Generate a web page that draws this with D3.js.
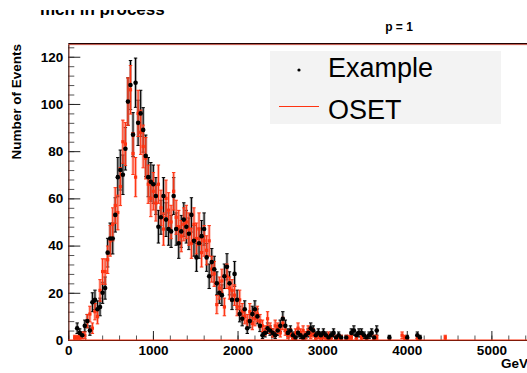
<!DOCTYPE html>
<html>
<head>
<meta charset="utf-8">
<script src="https://cdn.jsdelivr.net/npm/d3@7"></script>
<style>
body { margin: 0; background: #fff; }
svg { display: block; font-family: "Liberation Sans", Arial, Helvetica, sans-serif; }
</style>
</head>
<body>
<div id="chart"></div>
<script>
// bin width in GeV, first bin starts at 0
binWidth = 30;

// counts per bin
exampleCounts = [0,0,0,5,3,2,6,8,4,16, 17,13,14,20,22,37,43,43,53,69,
    72,70,81,101,108,87,109,92,96,89, 78,69,67,66,61,48,52,61,51,47,
    46,61,47,41,46,51,48,45,53,42, 35,41,44,47,35,27,33,30,24,20,
    19,27,31,24,17,28,17,11,9,13, 5,8,11,13,10,6,2,3,5,4,
    3,2,4,6,9,6,3,4,2,1, 3,2,1,2,3,5,4,2,3,2,
    3,2,1,2,3,1,2,1,0,1, 0,3,4,2,3,3,2,1,2,3,
    1,4,0,0,0,0,1,0,0,0, 0,0,0,1,0,0,0,2,1];

osetCounts = [0,0,1,1,1,2,2,8,11,5, 12,10,21,29,29,34,42,49,57,54,
    65,84,83,101,106,79,69,96,88,82, 77,66,60,63,58,66,56,47,60,55,
    50,63,52,48,44,49,50,47,41,49, 43,47,37,42,38,42,30,28,15,22,
    25,14,27,22,21,19,14,17,12,10, 8,12,7,9,11,8,6,4,9,5,
    3,6,5,3,7,4,2,3,1,3, 5,3,4,2,4,2,3,1,2,1,
    2,1,2,1,0,1,1,1,0,1, 1,1,0,1,0,1,0,1,0,0,
    1,1,0,0,0,0,0,0,0,0, 0,2,1,0,0,0,0,1,0,0,
    0,0,0,0,0,0,0,0,1];

xTicks = [0, 1000, 2000, 3000, 4000, 5000];
xMinorTicks = d3.range(0, 6001, 200);
yTicks = [0, 20, 40, 60, 80, 100, 120];
yMinorTicks = d3.range(0, 125, 4);

legendLabels = ["Example", "OSET"];

width = 527;
height = 373;
red = "#ff3311";

x = d3.scaleLinear().domain([0, 6000]).range([68.3, 576]);
y = d3.scaleLinear().domain([0, 125.4]).range([340, 44]);

const svg = d3.select("#chart")
    .append("svg")
    .attr("width", width)
    .attr("height", height)
    .attr("viewBox", [0, 0, width, height]);

const defs = svg.append("defs");
defs.append("clipPath").attr("id", "plot-clip")
    .append("rect")
    .attr("x", x.range()[0]).attr("y", y.range()[1])
    .attr("width", x.range()[1] - x.range()[0])
    .attr("height", y.range()[0] - y.range()[1]);
defs.append("clipPath").attr("id", "title-clip")
    .append("rect")
    .attr("x", 0).attr("y", 10).attr("width", 300).attr("height", 20);

// title, cut off at the top like the source
svg.append("text")
    .attr("clip-path", "url(#title-clip)")
    .attr("x", 40).attr("y", 15)
    .attr("font-weight", "bold")
    .attr("font-size", "17px")
    .text("mch in process");

svg.append("text")
    .attr("x", 399).attr("y", 31)
    .attr("text-anchor", "middle")
    .attr("font-weight", "bold")
    .attr("font-size", "12px")
    .text("p = 1");

// axes
styleAxis = g => {
    g.attr("font-family", null).attr("font-size", null);
    g.selectAll(".tick text")
        .attr("font-weight", "bold")
        .attr("font-size", "13.5px")
        .attr("fill", "#000");
    g.selectAll(".tick line").attr("stroke", "#222");
};

svg.append("g")
    .attr("transform", `translate(0, ${y(0)})`)
    .call(d3.axisBottom(x).tickValues(xMinorTicks).tickSizeInner(-4.5).tickSizeOuter(0).tickFormat(""))
    .call(g => g.select(".domain").remove())
    .selectAll(".tick line").attr("stroke", "#555");

svg.append("g")
    .attr("transform", `translate(0, ${y(0)})`)
    .call(d3.axisBottom(x).tickValues(xTicks).tickSizeInner(-9).tickSizeOuter(0).tickPadding(5).tickFormat(d3.format("d")))
    .call(styleAxis);

svg.append("g")
    .attr("transform", `translate(${x(0)}, 0)`)
    .call(d3.axisLeft(y).tickValues(yMinorTicks).tickSizeInner(-6).tickSizeOuter(0).tickFormat(""))
    .call(g => g.select(".domain").remove())
    .selectAll(".tick line").attr("stroke", "#555");

svg.append("g")
    .attr("transform", `translate(${x(0)}, 0)`)
    .call(d3.axisLeft(y).tickValues(yTicks).tickSizeInner(-12).tickSizeOuter(0).tickPadding(5))
    .call(styleAxis);

// frame top and the red outline of the OSET histogram
svg.append("line")
    .attr("x1", x(0)).attr("x2", width)
    .attr("y1", y.range()[1] - 0.5).attr("y2", y.range()[1] - 0.5)
    .attr("stroke", "#200").attr("stroke-width", 1);
svg.append("line")
    .attr("x1", x(0)).attr("x2", width)
    .attr("y1", y.range()[1] + 0.6).attr("y2", y.range()[1] + 0.6)
    .attr("stroke", "#a21").attr("stroke-width", 0.8);
svg.append("line")
    .attr("x1", x(0) + 0.8).attr("x2", x(0) + 0.8)
    .attr("y1", y.range()[1]).attr("y2", y(0))
    .attr("stroke", red).attr("stroke-opacity", 0.5).attr("stroke-width", 0.8);

svg.append("text")
    .attr("transform", `translate(21, ${y.range()[1]}) rotate(-90)`)
    .attr("text-anchor", "end")
    .attr("font-weight", "bold")
    .attr("font-size", "13.5px")
    .text("Number of Events");

svg.append("text")
    .attr("x", 501).attr("y", 368)
    .attr("font-weight", "bold")
    .attr("font-size", "13.5px")
    .text("GeV");

// histograms
toBins = counts => counts
    .map((n, i) => ({c: binWidth * i + binWidth / 2, n: n}))
    .filter(d => d.n > 0);

const plot = svg.append("g").attr("clip-path", "url(#plot-clip)");

drawBars = (bins, color, halo) => {
    const bars = plot.append("g").selectAll("g")
        .data(bins)
        .join("g")
        .attr("transform", d => `translate(${x(d.c)}, 0)`);

    bars.append("line")
        .attr("y1", d => y(d.n + Math.sqrt(d.n)))
        .attr("y2", d => y(d.n - Math.sqrt(d.n)))
        .attr("stroke", halo).attr("stroke-opacity", 0.45).attr("stroke-width", 3);
    bars.append("line")
        .attr("y1", d => y(d.n + Math.sqrt(d.n)))
        .attr("y2", d => y(d.n - Math.sqrt(d.n)))
        .attr("stroke", color).attr("stroke-width", 1.1);
    bars.selectAll(".cap")
        .data(d => [d.n + Math.sqrt(d.n), d.n - Math.sqrt(d.n)])
        .join("line")
        .attr("class", "cap")
        .attr("x1", -1.7).attr("x2", 1.7)
        .attr("y1", v => y(v)).attr("y2", v => y(v))
        .attr("stroke", color).attr("stroke-width", 1);
};

drawMarkers = (bins, color, marker) => {
    const g = plot.append("g");
    if (marker === "circle")
        g.selectAll("circle")
            .data(bins)
            .join("circle")
            .attr("cx", d => x(d.c))
            .attr("cy", d => y(d.n))
            .attr("r", 2.3)
            .attr("fill", color);
    else
        g.selectAll("rect")
            .data(bins)
            .join("rect")
            .attr("x", d => x(d.c) - 1.6)
            .attr("y", d => y(d.n) - 1.6)
            .attr("width", 3.2).attr("height", 3.2)
            .attr("fill", color);
};

const exampleBins = toBins(exampleCounts);
const osetBins = toBins(osetCounts);

drawBars(exampleBins, "#000", "#666");
drawBars(osetBins, red, "#ff6650");
drawMarkers(osetBins, red, "square");
drawMarkers(exampleBins, "#000", "circle");

svg.append("line")
    .attr("x1", x(0)).attr("x2", width)
    .attr("y1", y(0)).attr("y2", y(0))
    .attr("stroke", red).attr("stroke-width", 1.2);

// legend
const legend = svg.append("g");
legend.append("rect")
    .attr("x", 270).attr("y", 51)
    .attr("width", 231).attr("height", 73)
    .attr("fill", "#f3f3f3");

legend.append("circle")
    .attr("cx", 299).attr("cy", 70)
    .attr("r", 1.6)
    .attr("fill", "#000");
legend.append("line")
    .attr("x1", 279).attr("x2", 319)
    .attr("y1", 106.5).attr("y2", 106.5)
    .attr("stroke", red).attr("stroke-width", 1);

legend.selectAll(".label")
    .data(legendLabels)
    .join("text")
    .attr("class", "label")
    .attr("x", 328)
    .attr("y", (d, i) => 77 + i * 42)
    .attr("font-size", "27px")
    .text(d => d);
</script>
</body>
</html>
